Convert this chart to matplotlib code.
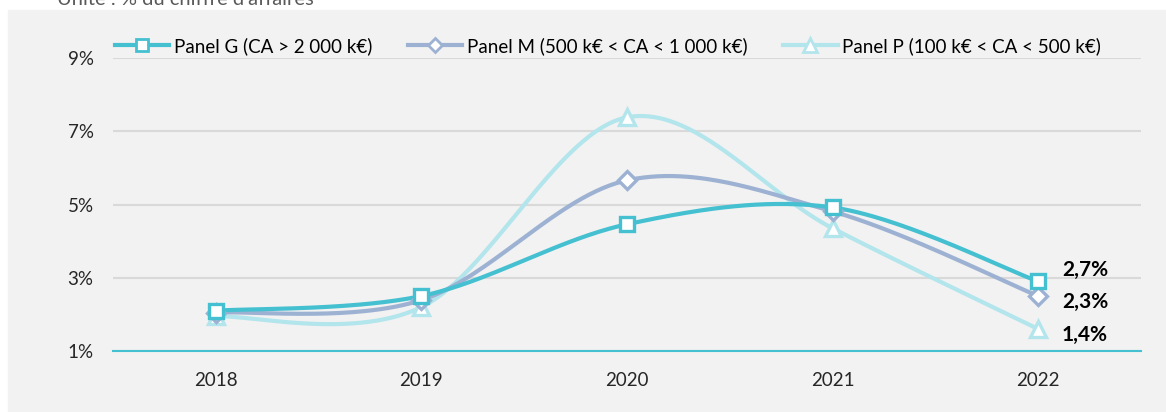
import numpy as np
import matplotlib
matplotlib.use('Agg')
import matplotlib.pyplot as plt
from matplotlib.lines import Line2D
from matplotlib.patches import Rectangle

plt.rcParams['font.family'] = ['Lato', 'DejaVu Sans']

years = ['2018', '2019', '2020', '2021', '2022']
panel_g = [1.90, 2.30, 4.26, 4.72, 2.7]
panel_m = [1.85, 2.19, 5.46, 4.61, 2.3]
panel_p = [1.75, 2.00, 7.18, 4.15, 1.4]
labels = ['Panel G (CA > 2 000 k€)',
          'Panel M (500 k€ < CA < 1 000 k€)',
          'Panel P (100 k€ < CA < 500 k€)']
end_labels = ['2,7%', '2,3%', '1,4%']
y_ticks = [0.8, 2.8, 4.8, 6.8, 8.8]
y_ticklabels = ['1%', '3%', '5%', '7%', '9%']

colors = ['#45c0d1', '#9db2d3', '#b3e5ec']
markers = ['s', 'D', '^']
msizes = [10, 9, 12]
label_dy = [8, -4, -4]


def smooth(x, y, n=60):
    # catmull-rom style bezier, same smoothing as office line charts
    x = np.asarray(x, float)
    y = np.asarray(y, float)
    px = np.concatenate([[x[0]], x, [x[-1]]])
    py = np.concatenate([[y[0]], y, [y[-1]]])
    t = np.linspace(0, 1, n)[:, None]
    xs, ys = [], []
    for i in range(1, len(px) - 2):
        p0 = np.array([px[i], py[i]])
        p3 = np.array([px[i + 1], py[i + 1]])
        c1 = p0 + (np.array([px[i + 1], py[i + 1]]) - np.array([px[i - 1], py[i - 1]])) / 6
        c2 = p3 - (np.array([px[i + 2], py[i + 2]]) - np.array([px[i], py[i]])) / 6
        b = (1 - t) ** 3 * p0 + 3 * (1 - t) ** 2 * t * c1 + 3 * (1 - t) * t ** 2 * c2 + t ** 3 * p3
        xs.append(b[:, 0])
        ys.append(b[:, 1])
    return np.concatenate(xs), np.concatenate(ys)


fig = plt.figure(figsize=(11.66, 4.12), dpi=100, facecolor='white')
fig.patches.append(Rectangle((8 / 1166, 0), 1, 402 / 412, transform=fig.transFigure,
                             color='#f2f2f2', zorder=-1))
fig.text(57 / 1166, 1 - 5 / 412, "Unité : % du chiffre d'affaires", fontsize=14.5,
         color='#595959', va='baseline')

ax = fig.add_axes([113 / 1166, 61 / 412, 1028 / 1166, 293 / 412])
ax.set_facecolor('none')

xpos = np.arange(len(years))
handles = []
for k, series in enumerate([panel_g, panel_m, panel_p]):
    sx, sy = smooth(xpos, series)
    ax.plot(sx, sy, color=colors[k], lw=3, solid_capstyle='round', zorder=3 - k * 0.1)
    ax.plot(xpos, series, ls='none', marker=markers[k], ms=msizes[k], mfc='white',
            mec=colors[k], mew=2.4, zorder=4 - k * 0.1)
    ax.annotate(end_labels[k], (xpos[-1], series[-1]), xytext=(17, label_dy[k]),
                textcoords='offset points', fontsize=15, fontweight='bold',
                va='center', ha='left', color='black')
    handles.append(Line2D([], [], color=colors[k], lw=3, marker=markers[k], ms=msizes[k] * 0.8,
                          mfc='white', mec=colors[k], mew=2))

ax.set_xlim(-0.5, len(years) - 0.5)
ax.set_ylim(0.8, 8.8)
ax.set_xticks(xpos)
ax.set_xticklabels(years)
ax.set_yticks(y_ticks)
ax.set_yticklabels(y_ticklabels)
ax.tick_params(length=0, labelsize=13.5, colors='#262626')
ax.tick_params(axis='x', pad=15)
ax.tick_params(axis='y', pad=14)
ax.grid(axis='y', color='#d9d9d9', lw=1.5, zorder=0)
ax.set_axisbelow(True)
for s in ['top', 'right', 'left']:
    ax.spines[s].set_visible(False)
ax.spines['bottom'].set_color('#45c0d1')
ax.spines['bottom'].set_linewidth(1.5)
ax.spines['bottom'].set_zorder(1)

fig.legend(handles, labels, loc='center', bbox_to_anchor=(608 / 1166, 1 - 46 / 412), ncol=3,
           frameon=False, fontsize=13.5, handlelength=2.9, handletextpad=0.25,
           columnspacing=1.9, borderaxespad=0)

fig.savefig('out.png', dpi=100, facecolor='white')
